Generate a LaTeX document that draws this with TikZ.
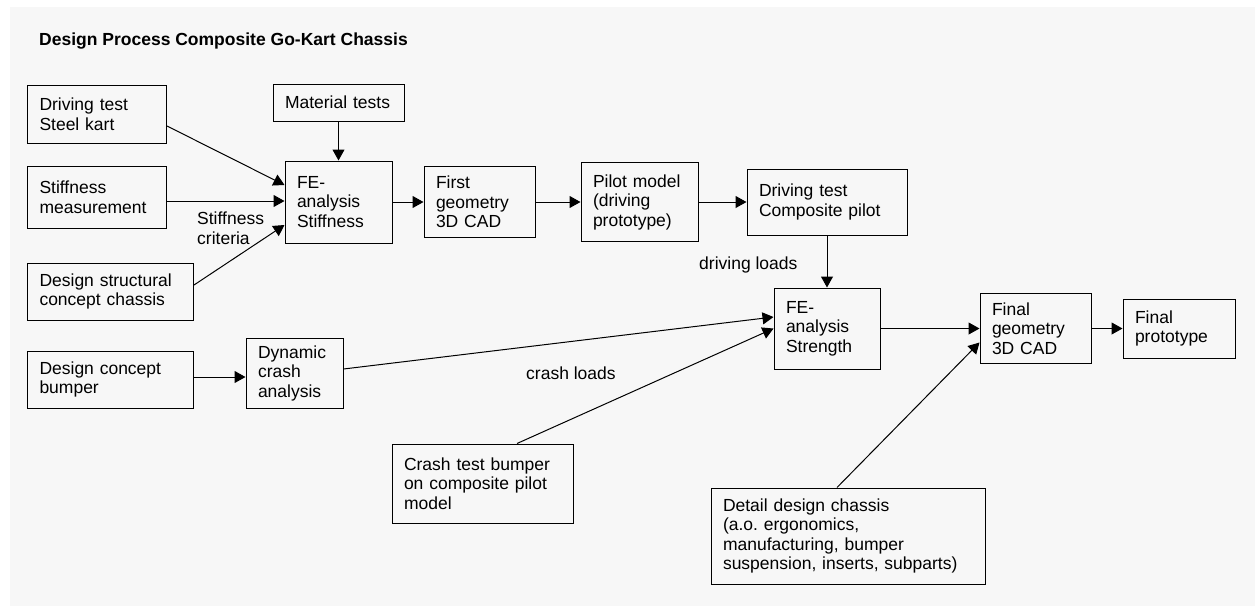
\documentclass[tikz,border=0pt]{standalone}
\usepackage{fontspec}
\setmainfont{Liberation Sans}
\usetikzlibrary{arrows.meta,positioning}
\tikzset{
    box/.style={draw,line width=1pt,align=left,inner xsep=12pt,inner ysep=2pt},
    lbl/.style={inner sep=0pt,align=left},
    arr/.style={-{Triangle[length=11pt,width=12pt]},line width=1pt}
}
\begin{document}
\begin{tikzpicture}[x=1pt,y=-1pt,font=\fontsize{17.5}{19.5}\selectfont]
    \useasboundingbox (0,0) rectangle (1255,606);
    \fill[black!3] (10,7) rectangle (1255,606);
    \node[lbl,anchor=base west,font=\fontsize{17.5}{19.5}\selectfont\bfseries] (title) at (39,45) {Design Process Composite Go-Kart Chassis};

    % stiffness inputs
    \node[box,text width=115pt,minimum height=58pt,anchor=west] (steel) at (27,114) {Driving test\\Steel kart};
    \node[box,text width=115pt,minimum height=62pt,anchor=west] (stm) at (27,197) {Stiffness\\measurement};
    \node[box,text width=142pt,minimum height=57pt,anchor=west] (dsc) at (27,291.5) {Design structural\\concept chassis};
    \node[box,text width=142pt,minimum height=57pt,anchor=west] (dcb) at (27,379.5) {Design concept\\bumper};
    \node[box,text width=73pt,minimum height=70pt] (dyn) at (294.5,373) {Dynamic\\crash\\analysis};

    % top chain
    \node[box,text width=83pt,minimum height=82pt] (fes) at (338.5,202) {FE-\\analysis\\Stiffness};
    \node[box,text width=107pt,minimum height=37pt,above=39pt of fes] (mat) {Material tests};
    \node[box,text width=87pt,minimum height=71pt,right=31pt of fes] (geo1) {First\\geometry\\3D CAD};
    \node[box,text width=93pt,minimum height=79pt,right=45pt of geo1] (pilot) {Pilot model\\(driving\\prototype)};
    \node[box,text width=136pt,minimum height=66pt,right=48pt of pilot] (drvc) {Driving test\\Composite pilot};

    % bottom chain
    \node[box,text width=82pt,minimum height=81pt,below=52pt of drvc] (fest) {FE-\\analysis\\Strength};
    \node[box,text width=87pt,minimum height=70pt,right=99pt of fest] (geo2) {Final\\geometry\\3D CAD};
    \node[box,text width=88pt,minimum height=59pt,right=31pt of geo2] (proto) {Final\\prototype};
    \node[box,text width=157pt,minimum height=79pt] (crt) at (482.5,483.5) {Crash test bumper\\on composite pilot\\model};
    \node[box,text width=250pt,minimum height=96pt] (det) at (848,536) {Detail design chassis\\(a.o.\ ergonomics,\\manufacturing, bumper\\suspension, inserts, subparts)};

    % labels
    \node[lbl,anchor=west] (crit) at (197,228) {Stiffness\\criteria};
    \node[lbl,anchor=west] (dload) at (699,265) {driving loads};
    \node[lbl,anchor=west] (cload) at (526,373) {crash loads};

    \draw[arr] ([yshift=-12pt]steel.east) -- ([yshift=17pt]fes.west);
    \draw[arr] ([yshift=-4pt]stm.east) -- ([yshift=-4pt]stm.east -| fes.west);
    \draw[arr] ([yshift=6.5pt]dsc.east) -- ([yshift=-23pt]fes.west);
    \draw[arr] (mat.south) -- (fes.north);
    \draw[arr] (fes.east) -- (geo1.west);
    \draw[arr] (geo1.east) -- (pilot.west);
    \draw[arr] (pilot.east) -- (drvc.west);
    \draw[arr] (drvc.south) -- (fest.north);
    \draw[arr] ([yshift=2.5pt]dcb.east) -- ([yshift=2.5pt]dcb.east -| dyn.west);
    \draw[arr] ([yshift=4pt]dyn.east) -- ([yshift=11.5pt]fest.west);
    \draw[arr] ([xshift=34.5pt]crt.north) -- (fest.west);
    \draw[arr] (fest.east) -- (geo2.west);
    \draw[arr] ([xshift=-11pt]det.north) -- ([yshift=-14pt]geo2.west);
    \draw[arr] (geo2.east) -- (proto.west);
\end{tikzpicture}
\end{document}
